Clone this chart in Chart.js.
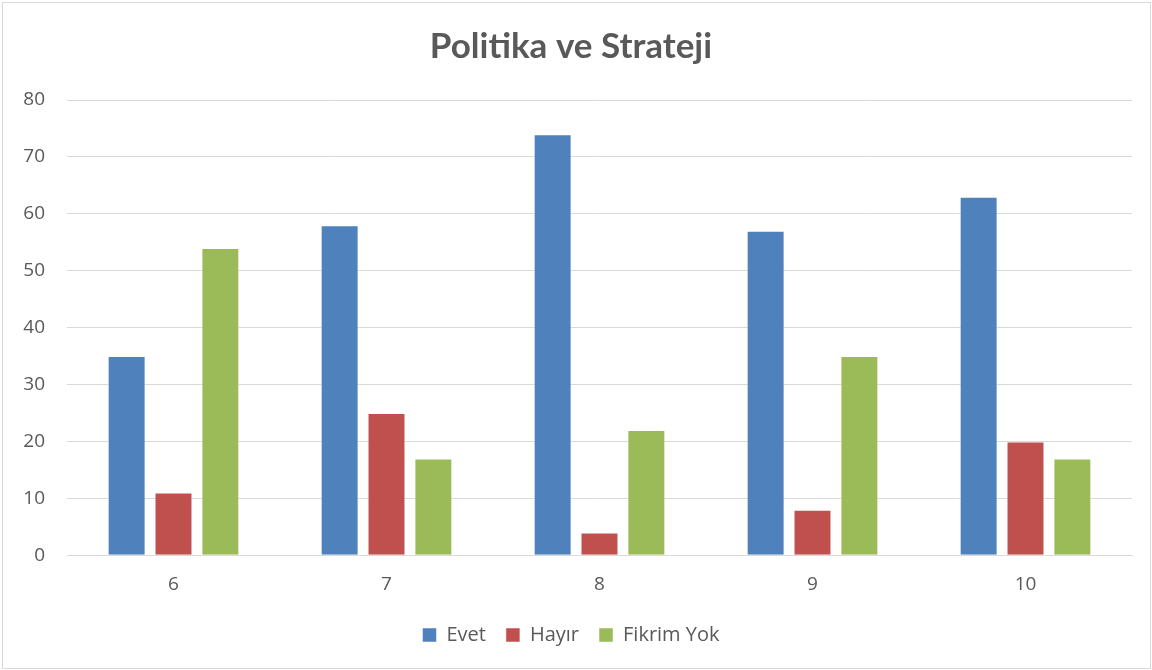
<!DOCTYPE html>
<html>
<head>
<meta charset="utf-8">
<script src="https://cdn.jsdelivr.net/npm/chart.js@4.4.1/dist/chart.umd.min.js"></script>
<style>
html,body{margin:0;padding:0;background:#fff;}
#wrap{position:absolute;left:0;top:0;width:1152px;height:670px;}
#frame{position:absolute;left:2px;top:2px;width:1147px;height:665px;border:1px solid #d9d9d9;pointer-events:none;}
</style>
</head>
<body>
<div id="wrap"><canvas id="c" width="1152" height="670"></canvas><div id="frame"></div></div>
<script>
const categories = ['6', '7', '8', '9', '10'];
const evet = [35, 58, 74, 57, 63];
const hayir = [11, 25, 4, 8, 20];
const fikrimYok = [54, 17, 22, 35, 17];
const seriesNames = ['Evet', 'Hayır', 'Fikrim Yok'];
const titleText = 'Politika ve Strateji';

const colors = ['#4F81BD', '#C0504D', '#9BBB59'];
const txt = '#595959';
const ds = [evet, hayir, fikrimYok].map((d, i) => ({
  label: seriesNames[i],
  data: d,
  backgroundColor: colors[i],
  borderColor: 'rgba(255,255,255,0.5)',
  borderWidth: 1,
  categoryPercentage: 0.66,
  barPercentage: 0.81
}));

new Chart(document.getElementById('c'), {
  type: 'bar',
  data: { labels: categories, datasets: ds },
  options: {
    responsive: false,
    animation: false,
    devicePixelRatio: 1,
    layout: { padding: { left: 10, right: 20, top: 0, bottom: 15 } },
    plugins: {
      title: {
        display: true, text: titleText, color: txt,
        font: { family: 'Lato', size: 35, weight: 'bold' },
        padding: { top: 26, bottom: 32 }
      },
      legend: {
        position: 'bottom',
        labels: {
          color: txt, boxWidth: 14, boxHeight: 14, padding: 20,
          font: { family: 'Open Sans', size: 20 }
        }
      },
      tooltip: { enabled: false }
    },
    scales: {
      x: {
        grid: { display: false, drawTicks: false },
        border: { color: '#d9d9d9' },
        ticks: { color: txt, font: { family: 'Open Sans', size: 19 }, padding: 18 },
        afterFit: s => { s.height -= 9; }
      },
      y: {
        min: 0, max: 80,
        grid: { color: '#d9d9d9', drawTicks: false },
        border: { display: false },
        ticks: { stepSize: 10, color: txt, font: { family: 'Open Sans', size: 19 }, padding: 22 },
        afterFit: s => { s.width = 57; }
      }
    }
  }
});
</script>
</body>
</html>
